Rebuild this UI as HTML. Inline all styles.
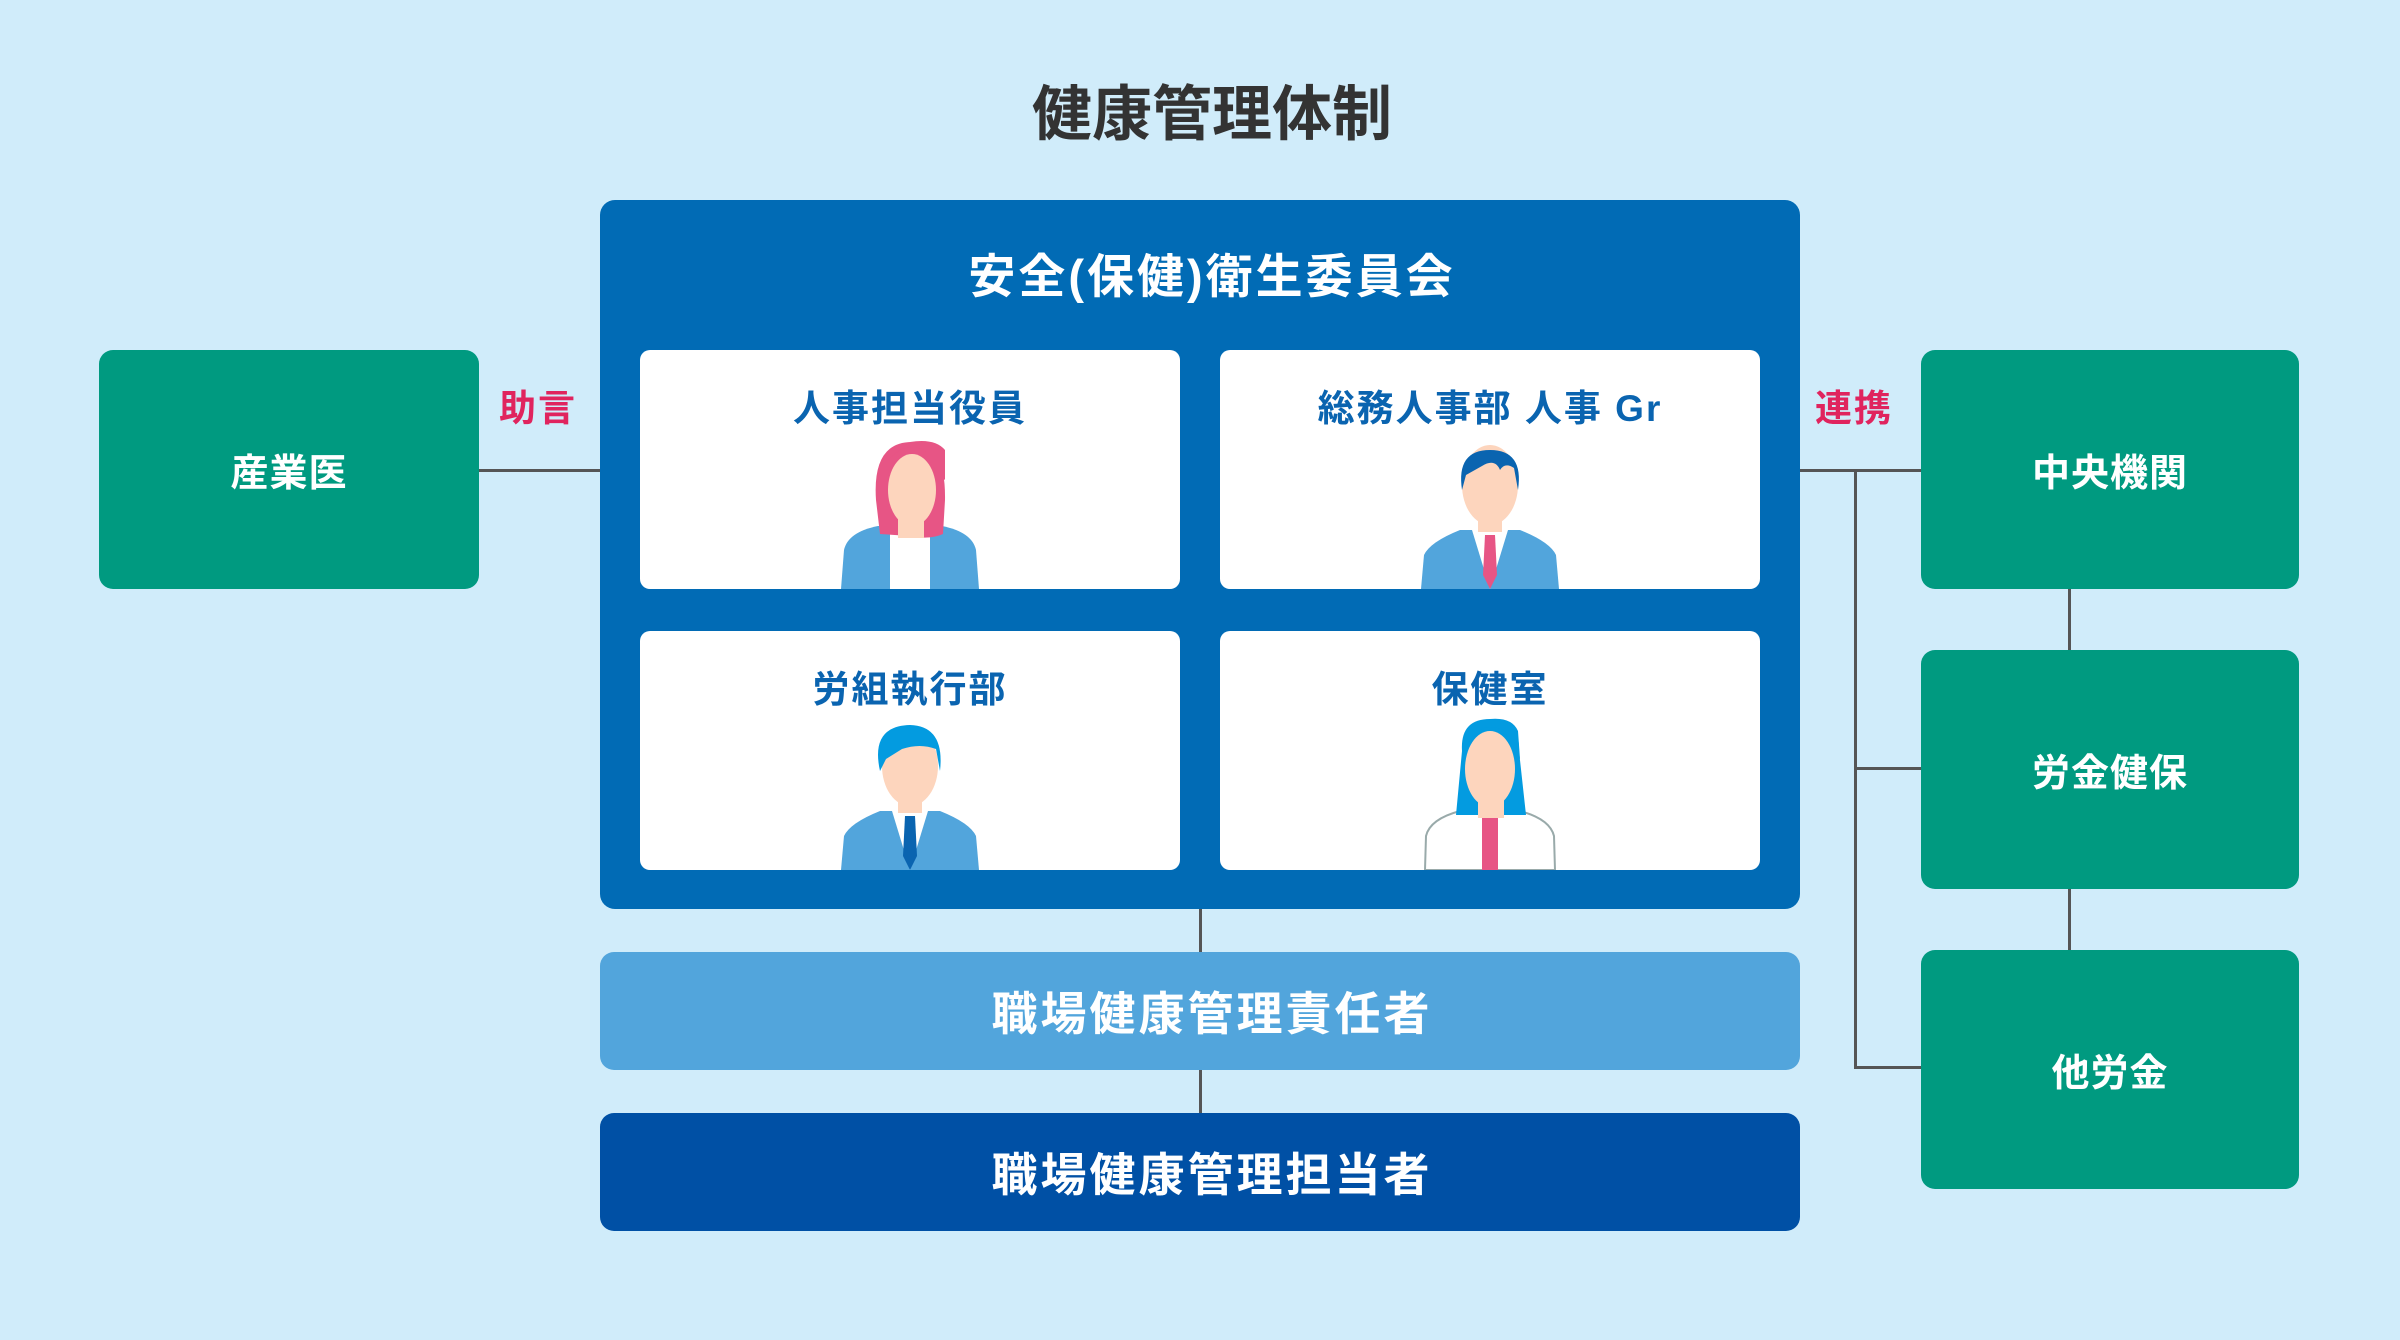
<!DOCTYPE html>
<html><head><meta charset="utf-8"><style>
body{margin:0;width:2400px;height:1340px;background:#d0ecfa;position:relative;overflow:hidden;font-family:"Liberation Sans","Noto Sans CJK JP",sans-serif;font-weight:bold}
.a{position:absolute;box-sizing:border-box}
.t{display:flex;align-items:center;justify-content:center;color:#fff}
.g{background:#009a80;border-radius:14px;font-size:38px;letter-spacing:1px}
.card{background:#fff;border-radius:10px;width:540px;height:239px;overflow:hidden}
.card .h{position:absolute;top:28px;left:0;right:0;text-align:center;color:#0a64b0;font-size:37px;letter-spacing:2px}
.card svg{position:absolute;left:0;top:0}
.ln{position:absolute;background:#555}
</style></head><body>
<div class="a" style="left:0;top:66px;width:2424px;text-align:center;font-size:60px;color:#333;font-weight:600">健康管理体制</div>
<div class="a" style="left:600px;top:200px;width:1200px;height:709px;background:#016bb5;border-radius:15px"></div>
<div class="a" style="left:600px;top:238px;width:1224px;text-align:center;color:#fff;font-size:47px;letter-spacing:3px">安全(保健)衛生委員会</div>

<div class="a card" style="left:640px;top:350px"><div class="h">人事担当役員</div>
<svg width="540" height="239"><path d="M201 239 L204 200 Q208 182 238 176 L302 176 Q332 182 336 200 L339 239Z" fill="#52a5dc"/><rect x="250" y="176" width="40" height="63" fill="#fff"/><path d="M236 150 Q232 92 272 92 Q306 92 305 150 L303 184 Q290 190 270 186 L240 184Z" fill="#e75585"/><rect x="258" y="160" width="26" height="28" fill="#fdd5bd"/><ellipse cx="272" cy="140" rx="24" ry="36" fill="#fdd5bd"/><path d="M248 110 Q262 92 285 100 Q292 120 305 130 L305 100 Q295 88 270 92Z" fill="#e75585"/></svg></div>

<div class="a card" style="left:1220px;top:350px"><div class="h">総務人事部 人事 Gr</div>
<svg width="540" height="239"><path d="M201 239 L204 205 Q210 192 240 180 L300 180 Q330 192 336 205 L339 239Z" fill="#52a5dc"/><path d="M252 180 L270 239 L288 180Z" fill="#fff"/><path d="M265 185 L275 185 L277 225 L270 239 L263 225Z" fill="#e75585"/><rect x="258" y="150" width="24" height="32" fill="#fdd5bd"/><ellipse cx="270" cy="135" rx="28" ry="40" fill="#fdd5bd"/><path d="M242 140 Q236 100 270 100 Q304 100 298 140 L294 118 Q285 112 280 120 Q275 108 262 116 L246 125Z" fill="#0a64b0"/></svg></div>

<div class="a card" style="left:640px;top:631px"><div class="h">労組執行部</div>
<svg width="540" height="239"><path d="M201 239 L204 205 Q210 192 240 180 L300 180 Q330 192 336 205 L339 239Z" fill="#52a5dc"/><path d="M252 180 L270 239 L288 180Z" fill="#fff"/><path d="M265 185 L275 185 L277 225 L270 239 L263 225Z" fill="#0a64b0"/><rect x="258" y="150" width="24" height="32" fill="#fdd5bd"/><ellipse cx="270" cy="135" rx="28" ry="40" fill="#fdd5bd"/><path d="M240 140 Q230 95 270 94 Q305 95 300 140 L296 118 Q280 112 262 118 L246 128Z" fill="#039be0"/></svg></div>

<div class="a card" style="left:1220px;top:631px"><div class="h">保健室</div>
<svg width="540" height="239"><path d="M205 239 L206 205 Q210 188 240 180 L300 180 Q330 188 334 205 L335 239Z" fill="#fff" stroke="#9aa" stroke-width="2"/><rect x="262" y="185" width="16" height="54" fill="#e75585"/><path d="M242 120 Q240 88 270 88 Q300 88 299 120 L306 184 L236 184Z" fill="#039be0"/><rect x="258" y="155" width="26" height="32" fill="#fdd5bd"/><ellipse cx="270" cy="138" rx="25" ry="38" fill="#fdd5bd"/><path d="M248 112 Q262 88 285 100 Q292 120 300 128 L298 100 Q292 86 270 88Z" fill="#039be0"/></svg></div>

<div class="a" style="left:600px;top:952px;width:1200px;height:118px;background:#52a5dc;border-radius:14px"></div>
<div class="a t" style="left:600px;top:952px;width:1224px;height:118px;font-size:46px;letter-spacing:3px">職場健康管理責任者</div>
<div class="a" style="left:600px;top:1113px;width:1200px;height:118px;background:#0050a5;border-radius:14px"></div>
<div class="a t" style="left:600px;top:1113px;width:1224px;height:118px;font-size:46px;letter-spacing:3px">職場健康管理担当者</div>
<div class="ln" style="left:1199px;top:909px;width:3px;height:43px"></div>
<div class="ln" style="left:1199px;top:1070px;width:3px;height:43px"></div>

<div class="a t g" style="left:99px;top:350px;width:380px;height:239px">産業医</div>
<div class="ln" style="left:479px;top:469px;width:121px;height:3px"></div>
<div class="a" style="left:499px;top:378px;color:#e0245e;font-size:37px;letter-spacing:2px">助言</div>

<div class="a t g" style="left:1921px;top:350px;width:378px;height:239px">中央機関</div>
<div class="a t g" style="left:1921px;top:650px;width:378px;height:239px">労金健保</div>
<div class="a t g" style="left:1921px;top:950px;width:378px;height:239px">他労金</div>
<div class="a" style="left:1815px;top:378px;color:#e0245e;font-size:37px;letter-spacing:2px">連携</div>
<div class="ln" style="left:1800px;top:469px;width:121px;height:3px"></div>
<div class="ln" style="left:1854px;top:469px;width:3px;height:600px"></div>
<div class="ln" style="left:1854px;top:767px;width:67px;height:3px"></div>
<div class="ln" style="left:1854px;top:1066px;width:67px;height:3px"></div>
<div class="ln" style="left:2068px;top:589px;width:3px;height:61px"></div>
<div class="ln" style="left:2068px;top:889px;width:3px;height:61px"></div>
</body></html>
